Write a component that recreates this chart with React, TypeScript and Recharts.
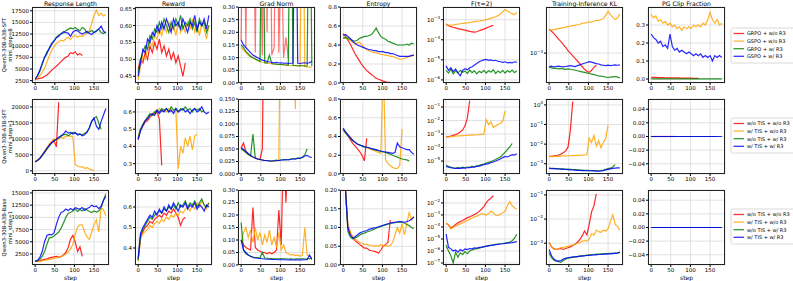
import { LineChart, Line, XAxis, YAxis, CartesianGrid } from "recharts";

const STEPS = [0, 6, 12, 18, 24, 30, 36, 42, 48, 54, 60, 66, 72, 78, 84, 90, 96, 102, 108, 114, 120, 126, 132, 138, 144, 150, 156, 162, 168, 174, 180];
const X_TICKS = [0, 50, 100, 150];

const TITLES = ["Response Length", "Reward", "Grad Norm", "Entropy", "F(\u03c4=2)", "Training-Inference KL", "PG Clip Fraction"];
const ROW_LABELS = [
  ["Qwen3-30B-A3B-SFT", "mini_step=8"],
  ["Qwen3-30B-A3B-SFT", "mini_step=1"],
  ["Qwen3-30B-A3B-Base", "mini_step=1"],
];
const LEGEND_1 = ["GRPO + w/o R3", "GSPO + w/o R3", "GRPO + w/ R3", "GSPO + w/ R3"];
const LEGEND_2 = ["w/o TIS + w/o R3", "w/ TIS + w/o R3", "w/o TIS + w/ R3", "w/ TIS + w/ R3"];

// ---------- row 1: SFT, mini_step=8 ----------
const len1Red = [2700, 2900, 3000, 3100, 3400, 3700, 4200, 4700, 5200, 5600, 6100, 6600, 7100, 7500, 7800, 8500, 8300, 8700, 8000, 8300, 7900];
const len1Orange = [2700, 3100, 3600, 4300, 5200, 6500, 7800, 9000, 9800, 10500, 10800, 11200, 11000, 11500, 11800, 11300, 12000, 12200, 11800, 12100, 12000, 12300, 12800, 13200, 14800, 16500, 17600, 16500, 17000, 16400, 16700];
const len1Green = [2800, 3500, 4500, 6000, 7500, 8700, 9300, 10200, 11000, 11800, 12300, 12500, 12700, 13200, 13500, 13800, 13600, 13900, 13500, 13200, 13900, 13600, 12700, 12900, 13300, 12800, 13100, 13600, 12800, 12600, 13000];
const len1Blue = [2800, 3600, 4800, 6200, 7500, 8300, 9500, 10500, 11000, 11700, 12000, 12600, 13000, 12800, 12700, 12000, 12900, 13300, 13200, 12800, 12500, 12800, 13100, 12600, 12400, 12900, 13200, 13600, 14200, 13100, 12700];

const rew1Red = [0.47, 0.5, 0.49, 0.52, 0.5, 0.54, 0.52, 0.55, 0.53, 0.56, 0.52, 0.54, 0.51, 0.53, 0.5, 0.52, 0.49, 0.51, 0.48, 0.45, 0.49];
const rew1Orange = [0.44, 0.48, 0.51, 0.5, 0.53, 0.55, 0.54, 0.57, 0.56, 0.59, 0.57, 0.6, 0.58, 0.61, 0.59, 0.6, 0.57, 0.61, 0.58, 0.6, 0.58, 0.61, 0.59, 0.62, 0.58, 0.6, 0.57, 0.61, 0.59, 0.56, 0.6];
const rew1Green = [0.46, 0.5, 0.52, 0.54, 0.53, 0.57, 0.56, 0.59, 0.58, 0.61, 0.59, 0.62, 0.6, 0.58, 0.61, 0.59, 0.62, 0.6, 0.63, 0.59, 0.61, 0.6, 0.62, 0.59, 0.61, 0.58, 0.62, 0.6, 0.61, 0.58, 0.6];
const rew1Blue = [0.45, 0.49, 0.53, 0.52, 0.56, 0.55, 0.58, 0.57, 0.6, 0.58, 0.61, 0.59, 0.62, 0.6, 0.58, 0.62, 0.6, 0.61, 0.59, 0.62, 0.6, 0.58, 0.61, 0.6, 0.63, 0.59, 0.61, 0.6, 0.62, 0.59, 0.63];

const grad1Red = [0.17, 1, 0.14, 1, 0.5, 1, 0.12, 1, 0.6, 0.11, 1, 0.2, 1, 0.11, 0.14, 1, 0.12, 0.6, 0.1, 0.18, 0.1];
const grad1Orange = [0.14, 0.13, 0.12, 0.11, 0.105, 0.1, 0.095, 0.09, 0.085, 0.082, 0.08, 0.078, 0.077, 0.075, 0.076, 0.074, 0.073, 0.072, 0.071, 0.072, 0.07, 0.069, 0.068, 0.068, 0.067, 0.066, 1, 0.065, 0.064, 0.063, 0.064];
const grad1Green = [0.15, 0.14, 0.125, 0.115, 0.105, 0.1, 0.095, 0.09, 0.085, 1, 0.08, 0.079, 0.11, 0.077, 0.075, 0.074, 0.073, 0.074, 0.072, 0.071, 0.07, 1, 0.07, 0.069, 0.068, 0.068, 0.069, 0.067, 0.068, 1, 0.067];
const grad1Blue = [0.17, 0.15, 0.14, 0.13, 0.12, 0.11, 0.105, 0.1, 0.095, 0.09, 0.088, 0.085, 0.083, 0.082, 0.08, 0.081, 0.079, 0.08, 0.078, 0.079, 0.077, 0.078, 0.079, 1, 0.078, 0.077, 0.079, 0.08, 0.078, 0.08, 0.086];

const ent1Red = [0.52, 0.49, 0.45, 0.41, 0.36, 0.31, 0.27, 0.23, 0.19, 0.16, 0.13, 0.11, 0.09, 0.07, 0.05, 0.04, 0.03, 0.02, 0.012, 0.008, 0.006];
const ent1Orange = [0.48, 0.47, 0.46, 0.45, 0.43, 0.41, 0.42, 0.43, 0.4, 0.37, 0.35, 0.34, 0.33, 0.32, 0.32, 0.31, 0.3, 0.3, 0.29, 0.29, 0.28, 0.28, 0.27, 0.26, 0.25, 0.25, 0.26, 0.27, 0.28, 0.28, 0.3];
const ent1Green = [0.47, 0.48, 0.47, 0.46, 0.45, 0.44, 0.45, 0.47, 0.48, 0.49, 0.49, 0.5, 0.51, 0.54, 0.58, 0.53, 0.49, 0.47, 0.46, 0.44, 0.43, 0.42, 0.41, 0.4, 0.4, 0.4, 0.4, 0.41, 0.4, 0.42, 0.41];
const ent1Blue = [0.5, 0.51, 0.49, 0.47, 0.44, 0.42, 0.4, 0.39, 0.38, 0.37, 0.36, 0.35, 0.35, 0.34, 0.34, 0.33, 0.33, 0.33, 0.32, 0.32, 0.31, 0.31, 0.3, 0.29, 0.28, 0.28, 0.28, 0.28, 0.28, 0.29, 0.29];

const f1Red = [6e-4, 5e-4, 4.5e-4, 4.2e-4, 3.9e-4, 3.6e-4, 3.4e-4, 3.2e-4, 3e-4, 2.8e-4, 2.6e-4, 2.5e-4, 2.4e-4, 2.5e-4, 2.8e-4, 3.1e-4, 3.4e-4, 3.8e-4, 4.3e-4, 4.8e-4, 5.3e-4];
const f1Orange = [6e-4, 5.5e-4, 5.3e-4, 5.5e-4, 5.8e-4, 6e-4, 6.3e-4, 6.5e-4, 6.8e-4, 7e-4, 7.3e-4, 7.6e-4, 8e-4, 8.3e-4, 8.6e-4, 9e-4, 9.4e-4, 1e-3, 1.1e-3, 1.2e-3, 1.3e-3, 1.4e-3, 1.6e-3, 1.9e-3, 2.5e-3, 3.2e-3, 2.7e-3, 2.3e-3, 2e-3, 1.8e-3, 2.4e-3];
const f1Green = [3e-6, 2.2e-6, 3.4e-6, 2e-6, 2.8e-6, 2.2e-6, 3e-6, 2.4e-6, 2.8e-6, 2.1e-6, 3.1e-6, 2.3e-6, 2.8e-6, 2e-6, 2.7e-6, 2.3e-6, 3e-6, 2.2e-6, 2.9e-6, 2.4e-6, 3.2e-6, 2.1e-6, 2.8e-6, 2.3e-6, 3e-6, 2.2e-6, 2.9e-6, 2.4e-6, 3.1e-6, 2.3e-6, 2.9e-6];
const f1Blue = [5e-6, 3e-6, 4e-6, 2.6e-6, 3.5e-6, 2.2e-6, 1.6e-6, 3e-6, 3.6e-6, 3.2e-6, 4e-6, 4.5e-6, 5.5e-6, 6.5e-6, 8e-6, 9e-6, 1e-5, 1.05e-5, 9.5e-6, 1e-5, 9e-6, 9.5e-6, 8.5e-6, 8e-6, 7.5e-6, 8e-6, 7e-6, 7.5e-6, 7e-6, 8e-6, 7.5e-6];

const kl1Red = [2.5e-3, 2.3e-3, 2.1e-3, 1.9e-3, 1.7e-3, 1.55e-3, 1.4e-3, 1.25e-3, 1.1e-3, 1e-3, 9e-4, 8.2e-4, 7.4e-4, 6.7e-4, 6e-4, 5.4e-4, 5e-4, 4.8e-4, 5.2e-4, 5.8e-4, 6.3e-4];
const kl1Orange = [2.5e-3, 2.4e-3, 2.45e-3, 2.5e-3, 2.55e-3, 2.6e-3, 2.65e-3, 2.7e-3, 2.75e-3, 2.8e-3, 2.85e-3, 2.9e-3, 2.95e-3, 3e-3, 3.1e-3, 3.15e-3, 3.2e-3, 3.3e-3, 3.25e-3, 3.4e-3, 3.5e-3, 3.45e-3, 3.6e-3, 3.7e-3, 4.2e-3, 4.9e-3, 4.3e-3, 3.9e-3, 3.6e-3, 3.8e-3, 4.5e-3];
const kl1Green = [5.8e-4, 5.7e-4, 5.6e-4, 5.6e-4, 5.5e-4, 5.6e-4, 5.5e-4, 5.4e-4, 5.5e-4, 5.4e-4, 5.3e-4, 5.2e-4, 5.1e-4, 5e-4, 4.9e-4, 4.8e-4, 4.7e-4, 4.6e-4, 4.5e-4, 4.4e-4, 4.3e-4, 4.2e-4, 4.15e-4, 4.1e-4, 4e-4, 3.95e-4, 4e-4, 4.05e-4, 4.1e-4, 4e-4, 3.9e-4];
const kl1Blue = [6e-4, 6.1e-4, 5.9e-4, 6e-4, 6.1e-4, 6e-4, 5.9e-4, 6e-4, 6.1e-4, 6.2e-4, 6.1e-4, 6e-4, 6.2e-4, 6.4e-4, 6.6e-4, 6.8e-4, 7e-4, 7.2e-4, 7.1e-4, 6.9e-4, 6.7e-4, 6.6e-4, 6.4e-4, 6.3e-4, 6.2e-4, 6.3e-4, 6.2e-4, 6.3e-4, 6.4e-4, 6.3e-4, 6.4e-4];

const pg1Red = [0.01, 0.009, 0.009, 0.008, 0.008, 0.008, 0.007, 0.007, 0.007, 0.006, 0.006, 0.006, 0.006, 0.005, 0.005, 0.005, 0.005, 0.005, 0.004, 0.004, 0.004];
const pg1Orange = [0.36, 0.34, 0.35, 0.32, 0.33, 0.31, 0.32, 0.3, 0.31, 0.29, 0.3, 0.28, 0.29, 0.27, 0.29, 0.28, 0.29, 0.28, 0.3, 0.29, 0.3, 0.29, 0.31, 0.3, 0.33, 0.37, 0.33, 0.31, 0.33, 0.3, 0.31];
const pg1Green = [0.002, 0.001, 0.001, 0.001, 0.001, 0.001, 0.001, 0.001, 0.001, 0.001, 0.001, 0.001, 0.001, 0.001, 0.001, 0.001, 0.001, 0.001, 0.001, 0.001, 0.001, 0.001, 0.001, 0.001, 0.001, 0.001, 0.001, 0.001, 0.001, 0.001, 0.001];
const pg1Blue = [0.25, 0.23, 0.22, 0.2, 0.21, 0.18, 0.19, 0.17, 0.25, 0.18, 0.16, 0.17, 0.15, 0.16, 0.15, 0.14, 0.15, 0.14, 0.13, 0.14, 0.13, 0.14, 0.12, 0.13, 0.12, 0.13, 0.1, 0.13, 0.12, 0.13, 0.12];

// ---------- row 2: SFT, mini_step=1 ----------
const len2Red = [2800, 3300, 3800, 4800, 6000, 7000, 8000, 9000, 9500, 7500, 21500];
const len2Orange = [2800, 3400, 4000, 5000, 6200, 7300, 8500, 9200, 10000, 9500, 10000, 10500, 10200, 10800, 11000, 10800, 10800, 2000, 1500, 1200, 1300, 800, 1000, 600, 300, 100];
const len2Green = [2800, 3200, 3900, 4800, 5800, 6800, 7800, 8700, 9300, 10000, 10300, 10800, 11200, 11500, 11000, 11500, 12000, 11800, 11500, 11600, 11200, 11800, 12200, 13500, 15500, 16500, 17000, 15000, 13000];
const len2Blue = [2800, 3300, 3900, 4900, 5900, 7000, 8000, 8800, 9500, 9800, 10500, 11000, 11500, 12500, 11800, 12000, 11500, 12000, 11200, 11500, 11000, 11300, 12000, 13500, 15500, 16500, 14000, 13000, 15500, 17500, 19500];

const rew2Red = [0.44, 0.5, 0.52, 0.54, 0.55, 0.57, 0.58, 0.59, 0.6, 0.56, 0.29];
const rew2Orange = [0.45, 0.5, 0.52, 0.55, 0.56, 0.58, 0.59, 0.6, 0.61, 0.62, 0.6, 0.61, 0.6, 0.62, 0.61, 0.6, 0.61, 0.27, 0.4, 0.36, 0.45, 0.4, 0.46, 0.38, 0.46, 0.47];
const rew2Green = [0.45, 0.5, 0.53, 0.55, 0.57, 0.59, 0.58, 0.6, 0.61, 0.6, 0.62, 0.61, 0.62, 0.6, 0.63, 0.61, 0.62, 0.6, 0.62, 0.61, 0.63, 0.61, 0.62, 0.6, 0.62, 0.61, 0.62, 0.6, 0.61];
const rew2Blue = [0.44, 0.49, 0.52, 0.55, 0.56, 0.58, 0.59, 0.58, 0.61, 0.59, 0.61, 0.6, 0.62, 0.6, 0.61, 0.59, 0.62, 0.6, 0.61, 0.62, 0.6, 0.61, 0.59, 0.61, 0.62, 0.6, 0.61, 0.63, 0.6, 0.59, 0.6];

const grad2Red = [0.052, 0.062, 0.045, 0.04, 0.037, 0.034, 0.032, 0.03, 0.029, 0.05, 0.5];
const grad2Orange = [0.052, 0.048, 0.044, 0.04, 0.037, 0.034, 0.032, 0.03, 0.029, 0.028, 0.027, 0.027, 0.026, 0.026, 0.026, 0.026, 0.027, 0.5, 0.5, 0.5, 0.5, 0.5, 0.5, 0.13, 0.5, 0.5];
const grad2Green = [0.05, 0.047, 0.043, 0.039, 0.036, 0.08, 0.032, 0.03, 0.029, 0.028, 0.027, 0.027, 0.026, 0.026, 0.027, 0.028, 0.027, 0.028, 0.029, 0.028, 0.029, 0.03, 0.031, 0.03, 0.032, 0.031, 0.034, 0.038, 0.05];
const grad2Blue = [0.053, 0.049, 0.045, 0.041, 0.037, 0.034, 0.032, 0.03, 0.029, 0.028, 0.027, 0.027, 0.026, 0.026, 0.026, 0.027, 0.027, 0.028, 0.028, 0.029, 0.028, 0.029, 0.03, 0.03, 0.031, 0.032, 0.033, 0.036, 0.037, 0.034, 0.033];

const ent2Red = [0.48, 0.44, 0.41, 0.37, 0.33, 0.3, 0.27, 0.24, 0.2, 0.14, 0.38];
const ent2Orange = [0.48, 0.45, 0.42, 0.39, 0.36, 0.34, 0.32, 0.31, 0.3, 0.29, 0.28, 0.27, 0.26, 0.25, 0.24, 0.23, 0.22, 1.2, 0.15, 0.11, 0.09, 0.07, 0.06, 0.06, 0.09, 0.48];
const ent2Green = [0.47, 0.44, 0.41, 0.38, 0.36, 0.34, 0.32, 0.31, 0.3, 0.29, 0.285, 0.28, 0.27, 0.26, 0.255, 0.25, 0.24, 0.235, 0.23, 0.22, 0.21, 0.2, 0.19, 0.18, 0.17, 0.16, 0.155, 0.15, 0.14];
const ent2Blue = [0.49, 0.45, 0.42, 0.39, 0.36, 0.34, 0.32, 0.31, 0.3, 0.29, 0.285, 0.28, 0.27, 0.265, 0.26, 0.25, 0.245, 0.24, 0.235, 0.23, 0.225, 0.22, 0.23, 0.33, 0.29, 0.28, 0.27, 0.26, 0.26, 0.23, 0.21];

const f2Red = [6e-4, 6.5e-4, 7e-4, 8e-4, 9e-4, 1.1e-3, 1.4e-3, 2e-3, 4e-3, 1.5e-2, 0.3];
const f2Orange = [6e-4, 6.2e-4, 6.5e-4, 6.7e-4, 7e-4, 7.2e-4, 7.4e-4, 7.6e-4, 7.8e-4, 8e-4, 8.2e-4, 8.4e-4, 8.6e-4, 8.8e-4, 9e-4, 9.3e-4, 9.6e-4, 1.2e-2, 5e-3, 8e-3, 3e-3, 4e-3, 5e-3, 6e-3, 9e-3, 5e-2];
const f2Green = [5e-6, 4e-6, 3.5e-6, 3.2e-6, 3e-6, 3.3e-6, 3e-6, 3.5e-6, 3.2e-6, 3.6e-6, 3.4e-6, 4e-6, 3.8e-6, 4.5e-6, 4.8e-6, 5.5e-6, 6e-6, 7e-6, 8e-6, 9e-6, 1.1e-5, 1.3e-5, 1.6e-5, 2e-5, 3e-5, 4.5e-5, 7e-5, 1.1e-4, 2e-4];
const f2Blue = [4e-6, 3.5e-6, 3.2e-6, 3e-6, 2.8e-6, 3e-6, 2.9e-6, 3.1e-6, 3e-6, 3.2e-6, 3.3e-6, 3.5e-6, 3.6e-6, 4e-6, 4.2e-6, 4.8e-6, 5.5e-6, 6e-6, 6.5e-6, 7.5e-6, 8.5e-6, 1e-5, 1.2e-5, 1.4e-5, 1.8e-5, 2.2e-5, 2e-5, 2.5e-5, 3e-5, 2.8e-5, 3.5e-5];

const kl2Red = [2.4e-3, 2.4e-3, 2.5e-3, 2.6e-3, 2.8e-3, 3.1e-3, 3.6e-3, 4.5e-3, 7e-3, 5e-2, 1.5];
const kl2Orange = [2.4e-3, 2.3e-3, 2.35e-3, 2.4e-3, 2.4e-3, 2.45e-3, 2.5e-3, 2.5e-3, 2.55e-3, 2.6e-3, 2.6e-3, 2.65e-3, 2.7e-3, 2.7e-3, 2.75e-3, 2.8e-3, 2.9e-3, 2e-2, 1.2e-2, 2.8e-2, 8e-3, 1.5e-2, 6.5e-3, 1.2e-2, 2e-2, 9e-2];
const kl2Green = [6e-4, 5.9e-4, 5.8e-4, 5.7e-4, 5.6e-4, 5.5e-4, 5.5e-4, 5.4e-4, 5.3e-4, 5.2e-4, 5.1e-4, 5e-4, 4.9e-4, 4.8e-4, 4.7e-4, 4.6e-4, 4.6e-4, 4.5e-4, 4.5e-4, 4.5e-4, 4.4e-4, 4.4e-4, 4.5e-4, 4.8e-4, 5.2e-4, 5.6e-4, 6e-4, 6.8e-4, 9e-4];
const kl2Blue = [5.8e-4, 5.7e-4, 5.6e-4, 5.5e-4, 5.4e-4, 5.3e-4, 5.2e-4, 5.1e-4, 5e-4, 4.9e-4, 4.8e-4, 4.7e-4, 4.6e-4, 4.6e-4, 4.5e-4, 4.5e-4, 4.4e-4, 4.4e-4, 4.4e-4, 4.3e-4, 4.2e-4, 4.2e-4, 4.3e-4, 4.5e-4, 4.9e-4, 5.2e-4, 5.5e-4, 5.8e-4, 6e-4, 6.2e-4, 6.1e-4];

const pg2Red = [0, 0, 0, 0, 0, 0, 0, 0, 0, 0, 0];
const pg2Orange = [0, 0, 0, 0, 0, 0, 0, 0, 0, 0, 0, 0, 0, 0, 0, 0, 0, 0, 0, 0, 0, 0, 0, 0, 0, 0];
const pg2Green = [0, 0, 0, 0, 0, 0, 0, 0, 0, 0, 0, 0, 0, 0, 0, 0, 0, 0, 0, 0, 0, 0, 0, 0, 0, 0, 0, 0, 0];
const pg2Blue = [0, 0, 0, 0, 0, 0, 0, 0, 0, 0, 0, 0, 0, 0, 0, 0, 0, 0, 0, 0, 0, 0, 0, 0, 0, 0, 0, 0, 0, 0, 0];

// ---------- row 3: Base, mini_step=1 ----------
const len3Red = [1000, 1000, 1100, 1300, 1400, 1500, 1700, 1800, 1900, 2000, 1800, 2000, 2300, 2800, 3800, 5500, 6300, 5000, 3000, 4000, 2000];
const len3Orange = [1000, 1000, 1000, 1100, 1200, 1300, 1400, 1500, 1600, 1700, 1800, 1900, 2200, 2500, 2900, 3500, 4500, 6500, 8000, 8500, 8400, 7000, 6000, 5500, 7000, 8500, 9500, 7000, 12000, 11500, 10300];
const len3Green = [1000, 1100, 1400, 2000, 3000, 4500, 5800, 5900, 6200, 6600, 7000, 7800, 8800, 10000, 10800, 11000, 11300, 11700, 11200, 11600, 11300, 11800, 11500, 11200, 11000, 11300, 11100, 11300, 12000, 13500, 14800];
const len3Blue = [1000, 1200, 1800, 3000, 5000, 6300, 6500, 6400, 6800, 8500, 10000, 11000, 11200, 11700, 11400, 11800, 11500, 12000, 11800, 11700, 12000, 11400, 11800, 12000, 12500, 12200, 12300, 11800, 12300, 13500, 14300];

const rew3Red = [0.34, 0.45, 0.48, 0.5, 0.51, 0.53, 0.52, 0.54, 0.55, 0.56, 0.55, 0.57, 0.56, 0.58, 0.57, 0.59, 0.57, 0.55, 0.51, 0.54, 0.55];
const rew3Orange = [0.34, 0.44, 0.47, 0.48, 0.49, 0.51, 0.5, 0.52, 0.53, 0.52, 0.54, 0.53, 0.55, 0.54, 0.56, 0.55, 0.57, 0.56, 0.58, 0.57, 0.59, 0.6, 0.58, 0.61, 0.59, 0.62, 0.6, 0.63, 0.61, 0.59, 0.62];
const rew3Green = [0.34, 0.46, 0.49, 0.51, 0.53, 0.55, 0.54, 0.56, 0.57, 0.58, 0.57, 0.59, 0.58, 0.6, 0.59, 0.61, 0.59, 0.62, 0.6, 0.61, 0.63, 0.6, 0.62, 0.61, 0.63, 0.6, 0.62, 0.64, 0.61, 0.6, 0.62];
const rew3Blue = [0.35, 0.47, 0.5, 0.52, 0.54, 0.56, 0.55, 0.58, 0.56, 0.59, 0.57, 0.6, 0.58, 0.61, 0.59, 0.62, 0.6, 0.58, 0.61, 0.6, 0.62, 0.59, 0.61, 0.6, 0.62, 0.59, 0.61, 0.6, 0.58, 0.61, 0.6];

const grad3Red = [0.1, 0.08, 0.07, 0.065, 0.06, 0.23, 0.07, 0.06, 0.055, 0.05, 0.05, 0.045, 0.05, 0.045, 0.05, 0.06, 0.22, 0.08, 0.5, 0.25, 0.5];
const grad3Orange = [0.09, 0.13, 0.15, 0.11, 0.14, 0.09, 0.15, 0.1, 0.13, 0.08, 0.12, 0.09, 0.14, 0.08, 0.11, 0.07, 0.13, 0.06, 0.08, 0.05, 0.045, 0.04, 0.042, 0.038, 0.04, 0.035, 0.04, 0.15, 0.04, 0.035, 0.03];
const grad3Green = [0.17, 0.06, 0.045, 0.04, 0.035, 0.032, 0.03, 0.03, 0.028, 0.05, 0.028, 0.027, 0.026, 0.026, 0.025, 0.025, 0.025, 0.026, 0.025, 0.025, 0.024, 0.025, 0.024, 0.024, 0.025, 0.024, 0.026, 0.024, 0.025, 0.026, 0.025];
const grad3Blue = [0.1, 0.06, 0.05, 0.04, 0.035, 0.03, 0.028, 0.027, 0.026, 0.025, 0.024, 0.023, 0.023, 0.022, 0.022, 0.022, 0.021, 0.021, 0.021, 0.021, 0.02, 0.021, 0.02, 0.021, 0.02, 0.021, 0.02, 0.021, 0.021, 0.04, 0.022];

const ent3Red = [0.4, 0.2, 0.1, 0.085, 0.075, 0.065, 0.06, 0.055, 0.05, 0.045, 0.045, 0.04, 0.038, 0.037, 0.035, 0.032, 0.04, 0.05, 0.055, 0.06, 0.12];
const ent3Orange = [0.4, 0.2, 0.11, 0.09, 0.075, 0.07, 0.065, 0.06, 0.058, 0.055, 0.055, 0.053, 0.052, 0.05, 0.052, 0.05, 0.055, 0.05, 0.052, 0.05, 0.052, 0.06, 0.08, 0.1, 0.085, 0.11, 0.08, 0.11, 0.14, 0.12, 0.13];
const ent3Green = [0.4, 0.2, 0.09, 0.075, 0.07, 0.072, 0.075, 0.08, 0.083, 0.085, 0.088, 0.09, 0.092, 0.095, 0.098, 0.1, 0.103, 0.105, 0.107, 0.109, 0.11, 0.112, 0.113, 0.114, 0.115, 0.114, 0.112, 0.108, 0.105, 0.1, 0.097];
const ent3Blue = [0.4, 0.2, 0.1, 0.08, 0.072, 0.075, 0.08, 0.085, 0.088, 0.09, 0.092, 0.095, 0.097, 0.099, 0.1, 0.102, 0.104, 0.106, 0.108, 0.11, 0.112, 0.113, 0.114, 0.115, 0.116, 0.115, 0.114, 0.116, 0.118, 0.122, 0.128];

const f3Red = [2e-4, 1.5e-4, 8e-5, 1.1e-4, 1.6e-4, 2.2e-4, 2.8e-4, 3.5e-4, 4.5e-4, 6e-4, 7e-4, 8.5e-4, 1.1e-3, 1.4e-3, 2e-3, 3e-3, 5e-3, 1e-2, 1.8e-2, 2.5e-2, 4e-2];
const f3Orange = [2e-4, 1.5e-4, 7e-5, 9e-5, 1.2e-4, 1.5e-4, 1.8e-4, 2.2e-4, 2.8e-4, 3.5e-4, 4.5e-4, 5.5e-4, 7e-4, 8e-4, 1e-3, 1.3e-3, 1.2e-3, 1e-3, 1.3e-3, 2e-3, 1.5e-3, 1e-3, 9e-4, 1.2e-3, 1.5e-3, 2e-3, 6e-3, 1.3e-2, 6e-3, 4e-3, 3e-3];
const f3Green = [3e-6, 1e-6, 4e-7, 1e-7, 8e-7, 3e-7, 7e-7, 5e-7, 9e-7, 6e-7, 1e-6, 1.2e-6, 1.4e-6, 1.6e-6, 1.7e-6, 2e-6, 2.2e-6, 2.5e-6, 2.8e-6, 3e-6, 3.2e-6, 3.5e-6, 3.8e-6, 4e-6, 4.2e-6, 4.5e-6, 5e-6, 5.5e-6, 7e-6, 1.2e-5, 2.5e-5];
const f3Blue = [2.5e-5, 2e-6, 1.5e-6, 1e-6, 1.2e-6, 8e-7, 1.3e-6, 1e-6, 1.5e-6, 1.3e-6, 1.6e-6, 1.5e-6, 1.8e-6, 1.7e-6, 2e-6, 2.1e-6, 2.3e-6, 2.5e-6, 2.7e-6, 2.9e-6, 3.1e-6, 3.3e-6, 3.5e-6, 3.8e-6, 4e-6, 4.3e-6, 4.5e-6, 4.8e-6, 5e-6, 5.5e-6, 6e-6];

const kl3Red = [1.1e-3, 7e-4, 6e-4, 5.5e-4, 5.8e-4, 6e-4, 5.5e-4, 6e-4, 6.5e-4, 7e-4, 8e-4, 9e-4, 1.1e-3, 1.4e-3, 2e-3, 3.2e-3, 2.2e-3, 6e-3, 2e-2, 3.5e-2, 1.1e-1];
const kl3Orange = [1.1e-3, 7e-4, 5.5e-4, 5.5e-4, 6e-4, 6.5e-4, 6.5e-4, 7e-4, 7.5e-4, 8e-4, 8.5e-4, 9e-4, 1e-3, 1.05e-3, 1.2e-3, 1.3e-3, 1.2e-3, 1.5e-3, 2.5e-3, 2.2e-3, 3.5e-3, 3e-3, 2.8e-3, 3.5e-3, 3.2e-3, 4e-3, 8e-3, 1.5e-2, 6e-3, 5e-3, 3.5e-3];
const kl3Green = [4e-4, 2.5e-4, 2e-4, 1.8e-4, 1.7e-4, 1.6e-4, 1.9e-4, 2.2e-4, 2.4e-4, 2.5e-4, 2.6e-4, 2.7e-4, 2.8e-4, 2.9e-4, 3e-4, 3.1e-4, 3.2e-4, 3.3e-4, 3.4e-4, 3.4e-4, 3.5e-4, 3.5e-4, 3.6e-4, 3.6e-4, 3.7e-4, 3.7e-4, 3.8e-4, 3.8e-4, 3.9e-4, 4e-4, 4.2e-4];
const kl3Blue = [5.5e-4, 3e-4, 2.2e-4, 1.9e-4, 1.8e-4, 1.9e-4, 2.2e-4, 2.4e-4, 2.5e-4, 2.6e-4, 2.7e-4, 2.7e-4, 2.8e-4, 2.9e-4, 2.9e-4, 3e-4, 3.1e-4, 3.1e-4, 3.2e-4, 3.3e-4, 3.3e-4, 3.4e-4, 3.4e-4, 3.5e-4, 3.5e-4, 3.6e-4, 3.6e-4, 3.7e-4, 3.8e-4, 3.9e-4, 4.3e-4];

const pg3Red = [0, 0, 0, 0, 0, 0, 0, 0, 0, 0, 0, 0, 0, 0, 0, 0, 0, 0, 0, 0, 0];
const pg3Orange = [0, 0, 0, 0, 0, 0, 0, 0, 0, 0, 0, 0, 0, 0, 0, 0, 0, 0, 0, 0, 0, 0, 0, 0, 0, 0, 0, 0, 0, 0, 0];
const pg3Green = [0, 0, 0, 0, 0, 0, 0, 0, 0, 0, 0, 0, 0, 0, 0, 0, 0, 0, 0, 0, 0, 0, 0, 0, 0, 0, 0, 0, 0, 0, 0];
const pg3Blue = [0, 0, 0, 0, 0, 0, 0, 0, 0, 0, 0, 0, 0, 0, 0, 0, 0, 0, 0, 0, 0, 0, 0, 0, 0, 0, 0, 0, 0, 0, 0];

// layout
const COLORS = ["#ff0000", "#ffa500", "#008000", "#0000ff"];
const KEYS = ["r", "o", "g", "b"];
const COL_X = [32, 135, 238, 340, 443, 546, 648];
const ROW_Y = [7, 99, 190];
const ROW_H = [76, 75, 75];
const PW = 77;
const YW = 26;
const XH = 12;
const PAD_TOP = 5;
const FONT = "'DejaVu Sans', sans-serif";

const fixed = (d: number) => (v: number) => (v < 0 ? "\u2212" : "") + Math.abs(v).toFixed(d);
const plain = (v: number) => String(v);

type Spec = {
  series: number[][];
  domain: [number, number];
  ticks: number[];
  fmt?: (v: number) => string;
  log?: boolean;
  redOpacity?: number;
};

const ZERO_TICKS = [-0.04, -0.02, 0, 0.02, 0.04];

const PANELS: Spec[][] = [
  [
    { series: [len1Red, len1Orange, len1Green, len1Blue], domain: [2000, 18300], ticks: [2500, 5000, 7500, 10000, 12500, 15000, 17500], fmt: plain },
    { series: [rew1Red, rew1Orange, rew1Green, rew1Blue], domain: [0.43, 0.655], ticks: [0.45, 0.5, 0.55, 0.6, 0.65], fmt: fixed(2) },
    { series: [grad1Red, grad1Orange, grad1Green, grad1Blue], domain: [0, 0.3], ticks: [0, 0.05, 0.1, 0.15, 0.2, 0.25, 0.3], fmt: fixed(2), redOpacity: 0.55 },
    { series: [ent1Red, ent1Orange, ent1Green, ent1Blue], domain: [0, 0.8], ticks: [0, 0.2, 0.4, 0.6, 0.8], fmt: fixed(1) },
    { series: [f1Red, f1Orange, f1Green, f1Blue], domain: [7e-7, 4.3e-3], ticks: [1e-6, 1e-5, 1e-4, 1e-3], log: true },
    { series: [kl1Red, kl1Orange, kl1Green, kl1Blue], domain: [3.2e-4, 5.8e-3], ticks: [1e-3], log: true },
    { series: [pg1Red, pg1Orange, pg1Green, pg1Blue], domain: [-0.022, 0.4], ticks: [0, 0.1, 0.2, 0.3], fmt: fixed(1) },
  ],
  [
    { series: [len2Red, len2Orange, len2Green, len2Blue], domain: [-1000, 22500], ticks: [0, 5000, 10000, 15000, 20000], fmt: plain },
    { series: [rew2Red, rew2Orange, rew2Green, rew2Blue], domain: [0.24, 0.675], ticks: [0.3, 0.4, 0.5, 0.6], fmt: fixed(1) },
    { series: [grad2Red, grad2Orange, grad2Green, grad2Blue], domain: [0, 0.15], ticks: [0, 0.025, 0.05, 0.075, 0.1, 0.125, 0.15], fmt: fixed(3) },
    { series: [ent2Red, ent2Orange, ent2Green, ent2Blue], domain: [0, 0.8], ticks: [0, 0.2, 0.4, 0.6, 0.8], fmt: fixed(1) },
    { series: [f2Red, f2Orange, f2Green, f2Blue], domain: [1.1e-6, 0.39], ticks: [1e-5, 1e-4, 1e-3, 1e-2, 1e-1], log: true },
    { series: [kl2Red, kl2Orange, kl2Green, kl2Blue], domain: [3e-4, 2], ticks: [1e-3, 1e-2, 1e-1, 1], log: true },
    { series: [pg2Red, pg2Orange, pg2Green, pg2Blue], domain: [-0.055, 0.055], ticks: ZERO_TICKS, fmt: fixed(2) },
  ],
  [
    { series: [len3Red, len3Orange, len3Green, len3Blue], domain: [250, 15600], ticks: [2500, 5000, 7500, 10000, 12500, 15000], fmt: plain },
    { series: [rew3Red, rew3Orange, rew3Green, rew3Blue], domain: [0.317, 0.683], ticks: [0.4, 0.5, 0.6], fmt: fixed(1) },
    { series: [grad3Red, grad3Orange, grad3Green, grad3Blue], domain: [0, 0.3], ticks: [0, 0.05, 0.1, 0.15, 0.2, 0.25, 0.3], fmt: fixed(2) },
    { series: [ent3Red, ent3Orange, ent3Green, ent3Blue], domain: [0, 0.2], ticks: [0, 0.05, 0.1, 0.15, 0.2], fmt: fixed(2) },
    { series: [f3Red, f3Orange, f3Green, f3Blue], domain: [6.8e-8, 0.12], ticks: [1e-7, 1e-6, 1e-5, 1e-4, 1e-3, 1e-2], log: true },
    { series: [kl3Red, kl3Orange, kl3Green, kl3Blue], domain: [1.25e-4, 0.16], ticks: [1e-3, 1e-2, 1e-1], log: true },
    { series: [pg3Red, pg3Orange, pg3Green, pg3Blue], domain: [-0.055, 0.055], ticks: ZERO_TICKS, fmt: fixed(2) },
  ],
];

function LogTick(props: any) {
  const { x, y, payload } = props;
  const e = Math.round(Math.log10(payload.value));
  const exp = e < 0 ? "\u2212" + -e : String(e);
  return (
    <text x={x} y={y + 2} textAnchor="end" fontSize={5.5} fill="#000" fontFamily={FONT}>
      10
      <tspan dy={-2.6} fontSize={4}>
        {exp}
      </tspan>
    </text>
  );
}

function Panel({ spec, left, top, h }: { spec: Spec; left: number; top: number; h: number }) {
  const rows = STEPS.map((s, i) => {
    const row: Record<string, number | undefined> = { step: s };
    spec.series.forEach((arr, k) => {
      row[KEYS[k]] = arr[i];
    });
    return row;
  });
  const w = PW + YW + 4;
  const tickStyle = { fontSize: 5.5, fill: "#000", fontFamily: FONT };
  return (
    <div style={{ position: "absolute", left: left - YW, top: top - PAD_TOP, width: w, height: h + XH + PAD_TOP }}>
      <LineChart width={w} height={h + XH + PAD_TOP} data={rows} margin={{ top: PAD_TOP, right: 4, bottom: 0, left: 0 }}>
        <CartesianGrid stroke="#d9d9d9" strokeWidth={0.8} />
        <XAxis
          dataKey="step"
          type="number"
          domain={[-8, 188]}
          ticks={X_TICKS}
          allowDataOverflow
          interval={0}
          height={XH}
          axisLine={false}
          tickLine={{ stroke: "#000" }}
          tickSize={2}
          tickMargin={1}
          tick={tickStyle}
        />
        <YAxis
          type="number"
          scale={spec.log ? "log" : "linear"}
          domain={spec.domain}
          ticks={spec.ticks}
          allowDataOverflow
          interval={0}
          width={YW}
          axisLine={false}
          tickLine={{ stroke: "#000" }}
          tickSize={2}
          tickMargin={1}
          tick={spec.log ? <LogTick /> : tickStyle}
          tickFormatter={spec.fmt}
        />
        {KEYS.map((k, idx) => (
          <Line
            key={k}
            dataKey={k}
            stroke={COLORS[idx]}
            strokeWidth={1.2}
            strokeOpacity={idx === 0 && spec.redOpacity ? spec.redOpacity : 0.85}
            dot={false}
            activeDot={false}
            isAnimationActive={false}
            connectNulls={false}
          />
        ))}
      </LineChart>
      <div
        style={{
          position: "absolute",
          left: YW,
          top: PAD_TOP,
          width: PW,
          height: h,
          border: "1px solid #222",
          boxSizing: "border-box",
          pointerEvents: "none",
        }}
      />
    </div>
  );
}

function Legend({ top, labels }: { top: number; labels: string[] }) {
  return (
    <g>
      <rect x={731} y={top} width={64} height={35} rx={1.5} fill="#fff" fillOpacity={0.85} stroke="#cfcfcf" strokeWidth={0.8} />
      {labels.map((t, i) => (
        <g key={t}>
          <line x1={733.5} x2={744} y1={top + 5.5 + i * 7.6} y2={top + 5.5 + i * 7.6} stroke={COLORS[i]} strokeWidth={1.3} strokeOpacity={0.8} />
          <text x={747} y={top + 7.3 + i * 7.6} fontSize={5} fill="#000" fontFamily={FONT}>
            {t}
          </text>
        </g>
      ))}
    </g>
  );
}

export default function App() {
  return (
    <div style={{ position: "absolute", left: 0, top: 0, width: 793, height: 281, background: "#fff", overflow: "hidden", fontFamily: FONT }}>
      {PANELS.map((row, r) =>
        row.map((spec, c) => <Panel key={`${r}-${c}`} spec={spec} left={COL_X[c]} top={ROW_Y[r]} h={ROW_H[r]} />)
      )}
      <svg width={793} height={281} style={{ position: "absolute", left: 0, top: 0, pointerEvents: "none" }}>
        {TITLES.map((t, c) => (
          <text key={t} x={COL_X[c] + PW / 2} y={5.6} textAnchor="middle" fontSize={6.2} fill="#000" fontFamily={FONT}>
            {t}
          </text>
        ))}
        {ROW_LABELS.map((lines, r) => {
          const cy = ROW_Y[r] + ROW_H[r] / 2;
          return (
            <g key={r}>
              <text transform={`translate(6.3, ${cy}) rotate(-90)`} textAnchor="middle" fontSize={5.3} fill="#000" fontFamily={FONT}>
                {lines[0]}
              </text>
              <text transform={`translate(12, ${cy}) rotate(-90)`} textAnchor="middle" fontSize={5.3} fill="#000" fontFamily={FONT}>
                {lines[1]}
              </text>
            </g>
          );
        })}
        {COL_X.map((x, c) => (
          <text key={c} x={x + PW / 2} y={279.5} textAnchor="middle" fontSize={6} fill="#000" fontFamily={FONT}>
            step
          </text>
        ))}
        <Legend top={28} labels={LEGEND_1} />
        <Legend top={118} labels={LEGEND_2} />
        <Legend top={209} labels={LEGEND_2} />
      </svg>
    </div>
  );
}
